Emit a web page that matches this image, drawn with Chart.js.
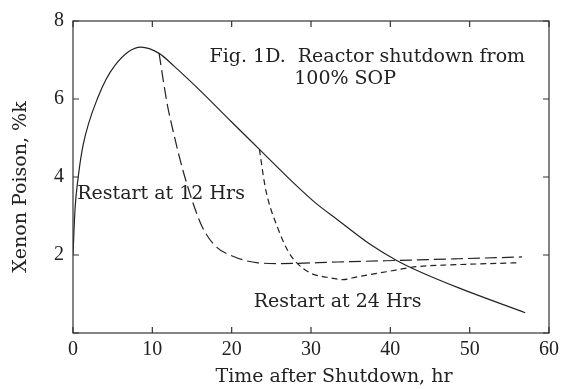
<!DOCTYPE html>
<html lang="en">
<head>
  <meta charset="UTF-8" />
  <title>Xenon Poison after Shutdown</title>
  <style>
    body {
      margin: 0;
      background: white;
    }
    canvas {
      display: block;
    }
  </style>
</head>
<body>
  <canvas id="xenonChart" width="564" height="389"></canvas>

  <script src="https://cdn.jsdelivr.net/npm/chart.js"></script>
  <script>
    // shutdown curve (solid)
    const shutT = [0, 0.25, 0.66, 1.3, 3.16, 5.24, 8.56, 10.85, 12.7, 15.8, 20, 23.5, 27.9, 30.6, 33.3, 37.4, 40.8, 43.3, 48.7, 57];
    const shutXe = [2.0, 3.16, 4.0, 4.84, 6.05, 6.85, 7.33, 7.17, 6.85, 6.26, 5.41, 4.71, 3.83, 3.33, 2.91, 2.28, 1.86, 1.61, 1.15, 0.52];

    // restart at 12 hrs (long dash)
    const r12T = [10.85, 11.85, 12.72, 13.75, 15.0, 16.25, 17.9, 20.4, 23.3, 26.2, 33.3, 40.8, 48, 56.6];
    const r12Xe = [7.17, 5.9, 5.09, 4.25, 3.41, 2.74, 2.24, 1.95, 1.80, 1.78, 1.82, 1.86, 1.90, 1.95];

    // restart at 24 hrs (short dash)
    const r24T = [23.5, 24.15, 24.6, 25.8, 27.1, 28.1, 30.0, 32, 34, 35.8, 39.5, 43.3, 46.6, 51, 55.9];
    const r24Xe = [4.71, 3.83, 3.41, 2.7, 2.1, 1.82, 1.53, 1.43, 1.37, 1.44, 1.57, 1.70, 1.74, 1.77, 1.80];

    const xTicks = [0, 10, 20, 30, 40, 50, 60];
    const yTicks = [0, 2, 4, 6, 8];

    // text notes, positioned in data units (centre x, baseline y)
    const notes = [
      { text: 'Fig. 1D.  Reactor shutdown from', x: 37.1, y: 6.95 },
      { text: '100% SOP', x: 34.3, y: 6.39 },
      { text: 'Restart at 12 Hrs', x: 11.1, y: 3.43 },
      { text: 'Restart at 24 Hrs', x: 33.35, y: 0.67 }
    ];

    const textFont = '19px "DejaVu Serif"';
    const ink = '#222';

    function pts(xs, ys) {
      return xs.map((x, i) => ({ x: x, y: ys[i] }));
    }

    // frame, inward ticks, notes and axis titles
    const decor = {
      id: 'decor',
      afterDraw(chart) {
        const ctx = chart.ctx;
        const a = chart.chartArea;
        const xs = chart.scales.x, ys = chart.scales.y;
        const tl = 6;
        ctx.save();
        ctx.strokeStyle = '#333';
        ctx.lineWidth = 1.2;
        ctx.setLineDash([]);
        ctx.strokeRect(a.left, a.top, a.right - a.left, a.bottom - a.top);
        ctx.beginPath();
        xTicks.forEach(v => {
          const px = xs.getPixelForValue(v);
          ctx.moveTo(px, a.bottom); ctx.lineTo(px, a.bottom - tl);
          ctx.moveTo(px, a.top); ctx.lineTo(px, a.top + tl);
        });
        yTicks.forEach(v => {
          const py = ys.getPixelForValue(v);
          ctx.moveTo(a.left, py); ctx.lineTo(a.left + tl, py);
          ctx.moveTo(a.right, py); ctx.lineTo(a.right - tl, py);
        });
        ctx.stroke();

        ctx.fillStyle = ink;
        ctx.font = textFont;
        ctx.textAlign = 'center';
        ctx.textBaseline = 'alphabetic';
        notes.forEach(n => {
          ctx.fillText(n.text, xs.getPixelForValue(n.x), ys.getPixelForValue(n.y));
        });

        ctx.textBaseline = 'middle';
        ctx.fillText('Time after Shutdown, hr', 334, 377);
        ctx.translate(21, 187);
        ctx.rotate(-Math.PI / 2);
        ctx.fillText('Xenon Poison, %k', 0, 0);
        ctx.restore();
      }
    };

    new Chart(document.getElementById('xenonChart'), {
      type: 'scatter',
      data: {
        datasets: [
          { label: 'Shutdown', data: pts(shutT, shutXe), borderDash: [] },
          { label: 'Restart at 12 Hrs', data: pts(r12T, r12Xe), borderDash: [12, 5] },
          { label: 'Restart at 24 Hrs', data: pts(r24T, r24Xe), borderDash: [6, 4] }
        ].map(d => Object.assign(d, {
          showLine: true,
          borderColor: ink,
          borderWidth: 1.2,
          pointRadius: 0,
          cubicInterpolationMode: 'monotone',
          fill: false
        }))
      },
      options: {
        responsive: false,
        animation: false,
        devicePixelRatio: 1,
        layout: { padding: { top: 14, right: 10, left: 0, bottom: 0 } },
        plugins: {
          legend: { display: false },
          tooltip: { enabled: false }
        },
        scales: {
          x: {
            type: 'linear',
            min: 0,
            max: 60,
            afterBuildTicks: s => { s.ticks = xTicks.map(v => ({ value: v })); },
            afterFit: s => { s.height = 56; },
            grid: { display: false, drawTicks: false },
            border: { display: false },
            ticks: {
              padding: 5,
              color: ink,
              font: { family: 'Liberation Serif', size: 20 }
            }
          },
          y: {
            type: 'linear',
            min: 0,
            max: 8,
            afterBuildTicks: s => { s.ticks = yTicks.map(v => ({ value: v })); },
            afterFit: s => { s.width = 73; },
            grid: { display: false, drawTicks: false },
            border: { display: false },
            ticks: {
              padding: 9,
              color: ink,
              font: { family: 'Liberation Serif', size: 20 },
              callback: v => v === 0 ? '' : v
            }
          }
        }
      },
      plugins: [decor]
    });
  </script>
</body>
</html>
